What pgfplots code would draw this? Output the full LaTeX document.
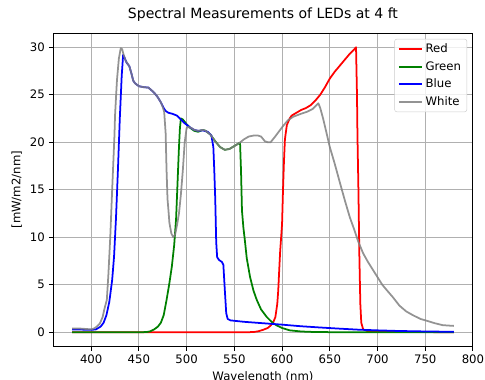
\documentclass[border=0pt]{standalone}
\usepackage{fontspec}
\setmainfont{DejaVu Sans}
\usepackage{pgfplots}
\pgfplotsset{compat=1.18}
\usetikzlibrary{calc}
\definecolor{mplgreen}{rgb}{0,0.5,0}
\definecolor{mplgray}{rgb}{0.5,0.5,0.5}
\definecolor{gridgray}{HTML}{B0B0B0}
\begin{document}
\begin{tikzpicture}
\begin{axis}[
  scale only axis,
  width=359pt, height=268pt,
  xmin=360, xmax=800, ymin=-1.5, ymax=31.5,
  xtick={400,450,...,800}, ytick={0,5,...,30},
  tick pos=left, tick align=outside,
  major tick length=3.5pt,
  every tick/.style={black, line width=0.8pt},
  axis line style={line width=0.8pt},
  grid=major,
  major grid style={gridgray, line width=0.8pt},
  /pgf/number format/assume math mode=true,
  /pgf/number format/1000 sep={},
  ticklabel style={font=\fontsize{10}{12}\selectfont},
  label style={font=\fontsize{10}{12}\selectfont},
  xlabel={Wavelength (nm)},
  ylabel={[mW/m2/nm]},
  title={Spectral Measurements of LEDs at 4 ft},
  title style={font=\fontsize{12}{14}\selectfont, at={(0.5,1)}, anchor=base, yshift=6pt, inner sep=0pt},
  legend cell align=left,
  legend style={at={(1,1)}, anchor=north east, xshift=-5pt, yshift=-5pt,
    draw=gray!40, rounded corners=2pt, fill=white, fill opacity=0.8, text opacity=1,
    font=\fontsize{10}{12}\selectfont, row sep=2pt},
  legend image code/.code={\draw[line width=1.5pt,#1] (0pt,0pt) -- (20pt,0pt);},
  every axis plot/.append style={line width=1.5pt, line join=round},
]
\addplot[color=red] coordinates {
(380,0) (500,0) (560,0) (570,0.02) (575,0.1) (580,0.25) (585,0.45) (588,0.7) (591,1.1) (593,1.6) (595,3) (596,4.4) (597,6.5) (598,8.5) (600,11.4) (601,15) (602,18) (603,20.3) (605,21.8) (608,22.5) (610,22.8) (615,23.1) (620,23.4) (625,23.6) (630,23.9) (635,24.4) (640,25.0) (645,25.8) (650,26.7) (655,27.4) (660,28.0) (665,28.6) (670,29.2) (675,29.7) (677.5,30.0) (678.5,25) (679,20.7) (680,15) (681,8) (682,3) (683,1.0) (685,0.3) (690,0.1) (700,0.05) (780,0)
};
\addlegendentry{Red}
\addplot[color=mplgreen] coordinates {
(380,0) (450,0) (458,0.02) (462,0.1) (466,0.3) (470,0.6) (473,1.0) (476,1.8) (479,3.4) (482,5.2) (484.5,6.9) (487,9.2) (489,12) (490,14.5) (491,17) (492,19.5) (493,21.5) (494,22.5) (496,22.4) (500,21.9) (504,21.5) (508,21.2) (512,21.1) (517,21.3) (520,21.2) (525,20.8) (530,20.1) (535,19.5) (540,19.2) (545,19.3) (550,19.6) (555,19.9) (556,19.9) (557,17) (558,12.8) (559.5,11) (561,9.7) (563,7.8) (566.5,5.8) (570,4.4) (573.5,3.4) (578,2.4) (584,1.6) (590,1.0) (594,0.74) (600,0.45) (608,0.2) (620,0.08) (630,0.04) (650,0.01) (780,0)
};
\addlegendentry{Green}
\addplot[color=blue] coordinates {
(380,0.3) (390,0.28) (400,0.25) (405,0.3) (410,0.6) (413,1.0) (416,1.8) (419,3.2) (422,5.5) (424,8) (426,12) (428,17) (430,22.5) (432,27) (433.5,29.2) (435,28.9) (437,28.4) (440,28.0) (442,27.3) (444,26.5) (446,26.2) (450,25.9) (455,25.8) (460,25.75) (464,25.4) (467,25.1) (470,24.7) (473,24.2) (476,23.6) (478,23.3) (481,23.1) (485,23.0) (490,22.8) (494,22.4) (498,22.0) (503,21.6) (508,21.3) (512,21.2) (517,21.25) (522,21.1) (526,20.7) (528,19.5) (529,17) (530,14) (531,9.5) (532,7.9) (534,7.6) (537,7.4) (538.5,7.1) (540,4.5) (541.5,2.0) (543,1.4) (546,1.25) (560,1.1) (580,0.95) (600,0.8) (620,0.63) (640,0.5) (660,0.38) (680,0.27) (700,0.2) (720,0.14) (740,0.1) (760,0.07) (780,0.05)
};
\addlegendentry{Blue}
\addplot[color=mplgray, draw opacity=0.85] coordinates {
(380,0.4) (390,0.38) (400,0.3) (403,0.4) (406,0.6) (409,0.9) (412,1.6) (414,2.5) (416.4,3.4) (418,6) (420,10) (422,15) (424.4,20.7) (425,22.8) (427,26.5) (429,28.8) (431,29.9) (432.5,29.8) (434,29.2) (436,28.6) (438,28.3) (440,28.0) (442,27.3) (444,26.5) (446,26.2) (450,25.9) (455,25.8) (460,25.75) (464,25.4) (467,25.1) (470,24.7) (473,24.2) (475,23.7) (476.5,23.2) (478,21) (479,17) (480,14) (481,12.8) (482,11.5) (484,10.4) (486,10.0) (488,10.3) (490,11.3) (492,12.5) (494,14.5) (496,17) (498,20) (500,21.5) (502,21.6) (505,21.5) (508,21.3) (512,21.2) (517,21.3) (520,21.2) (525,20.8) (530,20.1) (535,19.5) (540,19.2) (545,19.3) (550,19.6) (555,19.9) (560,20.3) (565,20.6) (570,20.7) (575,20.7) (578,20.6) (582,20.1) (585,20.0) (588,20.0) (592,20.5) (598,21.3) (601,21.7) (606,22.3) (612,22.7) (620,23.0) (626,23.2) (632,23.5) (636,23.9) (638,24.1) (640,23.6) (643,22.5) (647,20.8) (650,19.5) (655,17.8) (661,15.6) (666,13.8) (671,12.1) (676,10.7) (680,9.5) (685,8.3) (690,7.4) (695,6.6) (700,5.8) (705,5.0) (710,4.4) (716,3.7) (723,2.8) (730,2.2) (737,1.8) (745,1.4) (752,1.2) (760,0.95) (768,0.75) (775,0.7) (780,0.67)
};
\addlegendentry{White}
\end{axis}
\pgfresetboundingbox
\useasboundingbox ($(current axis.south west)+(-45.3pt,-28.5pt)$) rectangle ($(current axis.north east)+(10.3pt,28.2pt)$);
\end{tikzpicture}
\end{document}
